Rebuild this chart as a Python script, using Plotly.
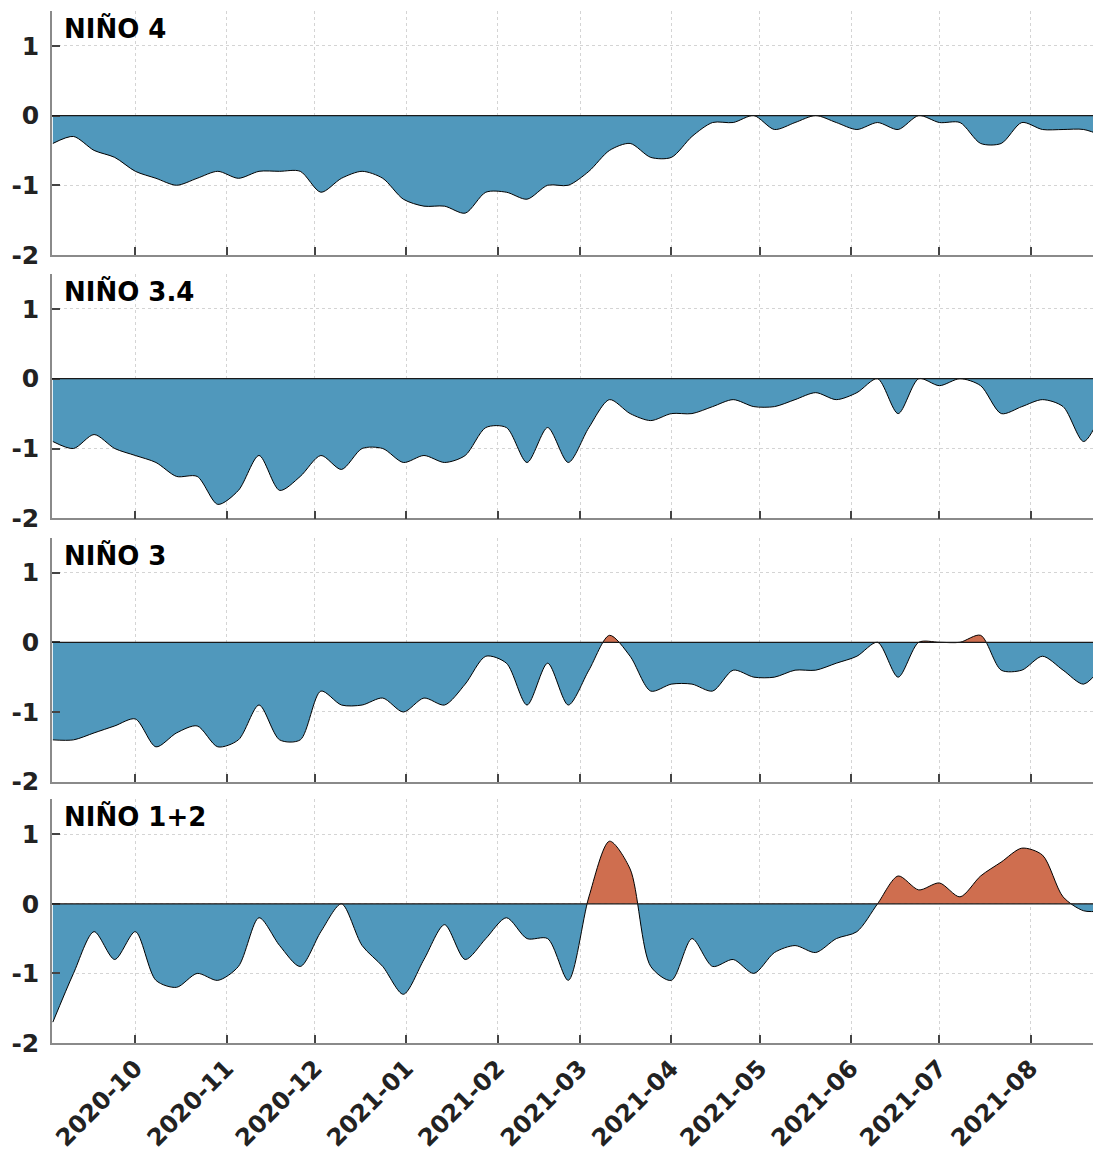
import pandas as pd
import plotly.graph_objects as go
from plotly.subplots import make_subplots

# weekly dates (one value per week)
dates = pd.date_range("2020-09-03", periods=52, freq="7D")

nino4 = [-0.4, -0.3, -0.5, -0.6, -0.8, -0.9, -1.0, -0.9, -0.8, -0.9,
         -0.8, -0.8, -0.8, -1.1, -0.9, -0.8, -0.9, -1.2, -1.3, -1.3,
         -1.4, -1.1, -1.1, -1.2, -1.0, -1.0, -0.8, -0.5, -0.4, -0.6,
         -0.6, -0.3, -0.1, -0.1, 0.0, -0.2, -0.1, 0.0, -0.1, -0.2,
         -0.1, -0.2, 0.0, -0.1, -0.1, -0.4, -0.4, -0.1, -0.2, -0.2,
         -0.2, -0.3]

nino34 = [-0.9, -1.0, -0.8, -1.0, -1.1, -1.2, -1.4, -1.4, -1.8, -1.6,
          -1.1, -1.6, -1.4, -1.1, -1.3, -1.0, -1.0, -1.2, -1.1, -1.2,
          -1.1, -0.7, -0.7, -1.2, -0.7, -1.2, -0.7, -0.3, -0.5, -0.6,
          -0.5, -0.5, -0.4, -0.3, -0.4, -0.4, -0.3, -0.2, -0.3, -0.2,
          0.0, -0.5, 0.0, -0.1, 0.0, -0.1, -0.5, -0.4, -0.3, -0.4,
          -0.9, -0.4]

nino3 = [-1.4, -1.4, -1.3, -1.2, -1.1, -1.5, -1.3, -1.2, -1.5, -1.4,
         -0.9, -1.4, -1.4, -0.7, -0.9, -0.9, -0.8, -1.0, -0.8, -0.9,
         -0.6, -0.2, -0.3, -0.9, -0.3, -0.9, -0.4, 0.1, -0.2, -0.7,
         -0.6, -0.6, -0.7, -0.4, -0.5, -0.5, -0.4, -0.4, -0.3, -0.2,
         0.0, -0.5, 0.0, 0.0, 0.0, 0.1, -0.4, -0.4, -0.2, -0.4,
         -0.6, -0.3]

nino12 = [-1.7, -1.0, -0.4, -0.8, -0.4, -1.1, -1.2, -1.0, -1.1, -0.9,
          -0.2, -0.6, -0.9, -0.4, 0.0, -0.6, -0.9, -1.3, -0.8, -0.3,
          -0.8, -0.5, -0.2, -0.5, -0.5, -1.1, 0.1, 0.9, 0.5, -0.9,
          -1.1, -0.5, -0.9, -0.8, -1.0, -0.7, -0.6, -0.7, -0.5, -0.4,
          0.0, 0.4, 0.2, 0.3, 0.1, 0.4, 0.6, 0.8, 0.7, 0.1,
          -0.1, -0.1]

titles = ["NIÑO 4", "NIÑO 3.4", "NIÑO 3", "NIÑO 1+2"]
series = [nino4, nino34, nino3, nino12]

month_ticks = pd.date_range("2020-10-01", "2021-08-01", freq="MS")
month_labels = [d.strftime("%Y-%m") for d in month_ticks]
y_ticks = [-2, -1, 0, 1]
y_labels = ["-2", "-1", "0", "1"]

BLUE = "#5098BC"
ORANGE = "#CF6E4F"
FONT = "DejaVu Sans"

fig = make_subplots(rows=4, cols=1, shared_xaxes=True, vertical_spacing=0.02)

for i, (vals, title) in enumerate(zip(series, titles)):
    fig.add_trace(
        go.Scatter(
            x=dates, y=vals, mode="lines",
            line=dict(color="black", width=1, shape="spline", smoothing=0.8),
            fill="tozeroy",
            fillgradient=dict(type="vertical", start=-1, stop=1,
                              colorscale=[[0, BLUE], [0.5, BLUE],
                                          [0.5, ORANGE], [1, ORANGE]]),
            hoverinfo="skip", showlegend=False,
        ),
        row=i + 1, col=1,
    )
    xr = "x" if i == 0 else f"x{i+1}"
    yr = "y" if i == 0 else f"y{i+1}"
    fig.add_shape(type="line", xref=f"{xr} domain", yref=yr,
                  x0=0, x1=1, y0=0, y1=0,
                  line=dict(color="#1a1a1a", width=1.3), layer="above")
    fig.add_annotation(text=f"<b>{title}</b>", xref=f"{xr} domain",
                       yref=f"{yr} domain", x=0.01, y=1, xanchor="left",
                       yanchor="top", yshift=0, showarrow=False,
                       font=dict(family=FONT, size=26, color="black"))

domains = [[0.7636, 1.0], [0.5084, 0.7452], [0.2532, 0.4896], [0.0, 0.2360]]
for i in range(4):
    fig.layout[f"yaxis{'' if i == 0 else i+1}"].domain = domains[i]

fig.update_xaxes(
    type="date", range=["2020-09-02 17:00", "2021-08-24 21:00"],
    tickvals=list(month_ticks), ticktext=month_labels,
    showgrid=True, gridcolor="#d4d4d4", griddash="3px,3px", gridwidth=1,
    showline=True, linecolor="#8a8a8a", linewidth=1.5,
    ticks="inside", ticklen=8, tickwidth=1.5, tickcolor="#444444",
    tickangle=-45, automargin=False,
    tickfont=dict(family=FONT, size=24, color="#222222", weight="bold"),
    zeroline=False,
)
for i in range(1, 4):
    fig.layout[f"xaxis{'' if i == 0 else i}"].showticklabels = False
fig.layout["xaxis4"].showticklabels = True

fig.update_yaxes(
    range=[-2, 1.5], tickvals=y_ticks, ticktext=y_labels,
    showgrid=True, gridcolor="#d4d4d4", griddash="3px,3px", gridwidth=1,
    showline=True, linecolor="#8a8a8a", linewidth=1.5,
    ticks="inside", ticklen=8, tickwidth=1.5, tickcolor="#444444",
    tickfont=dict(family=FONT, size=25, color="#222222", weight="bold"),
    zeroline=False, ticklabelstandoff=6, automargin=False,
)

# the page body adds an 8 px margin, so the figure is sized to fit inside it
fig.update_layout(
    width=1093, height=1148,
    margin=dict(l=44, r=0, t=3, b=113),
    plot_bgcolor="white", paper_bgcolor="white",
    font=dict(family=FONT),
)

fig.write_html("out.html")
